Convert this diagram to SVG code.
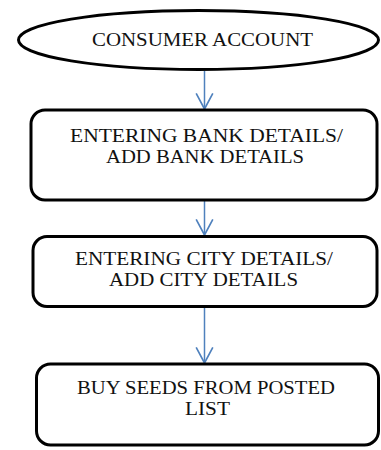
<svg xmlns="http://www.w3.org/2000/svg" width="381" height="450" viewBox="0 0 381 450">
<style>
.node{fill:#fff;stroke:#000;stroke-width:3}
.t{font-family:"Liberation Serif","Times New Roman",serif;font-size:18px;fill:#111;text-anchor:middle}
.c{stroke:#4F81BD;stroke-width:1.5;fill:none}
</style>
<defs>
<marker id="ah" markerUnits="userSpaceOnUse" markerWidth="20" markerHeight="20" viewBox="-1 -9 17 18" refX="14" refY="0" orient="auto">
<path d="M0,-7.5 L14,0 L0,7.5" fill="none" stroke="#4F81BD" stroke-width="1.5"/>
</marker>
</defs>
<rect width="381" height="450" fill="#fff"/>
<g id="connectors">
<line class="c" x1="204.5" y1="71" x2="204.5" y2="109" marker-end="url(#ah)"/>
<line class="c" x1="204.5" y1="201" x2="204.5" y2="235" marker-end="url(#ah)"/>
<line class="c" x1="204.5" y1="308" x2="204.5" y2="363" marker-end="url(#ah)"/>
</g>
<g id="consumer-account">
<ellipse class="node" cx="198.5" cy="40" rx="180" ry="29.5"/>
<text class="t" x="202.5" y="45.5" textLength="221" lengthAdjust="spacingAndGlyphs">CONSUMER ACCOUNT</text>
</g>
<g id="bank-details">
<rect class="node" x="31" y="110" width="346" height="90" rx="14"/>
<text class="t" x="206.5" y="141.5" textLength="273" lengthAdjust="spacingAndGlyphs">ENTERING BANK DETAILS/</text>
<text class="t" x="205" y="162.5" textLength="198" lengthAdjust="spacingAndGlyphs">ADD BANK DETAILS</text>
</g>
<g id="city-details">
<rect class="node" x="33" y="236.5" width="344" height="70" rx="14"/>
<text class="t" x="204" y="265" textLength="258" lengthAdjust="spacingAndGlyphs">ENTERING CITY DETAILS/</text>
<text class="t" x="203.5" y="286" textLength="189" lengthAdjust="spacingAndGlyphs">ADD CITY DETAILS</text>
</g>
<g id="buy-seeds">
<rect class="node" x="36.5" y="364" width="342" height="81" rx="14"/>
<text class="t" x="206" y="394" textLength="258" lengthAdjust="spacingAndGlyphs">BUY SEEDS FROM POSTED</text>
<text class="t" x="207.5" y="415" textLength="45" lengthAdjust="spacingAndGlyphs">LIST</text>
</g>
</svg>
